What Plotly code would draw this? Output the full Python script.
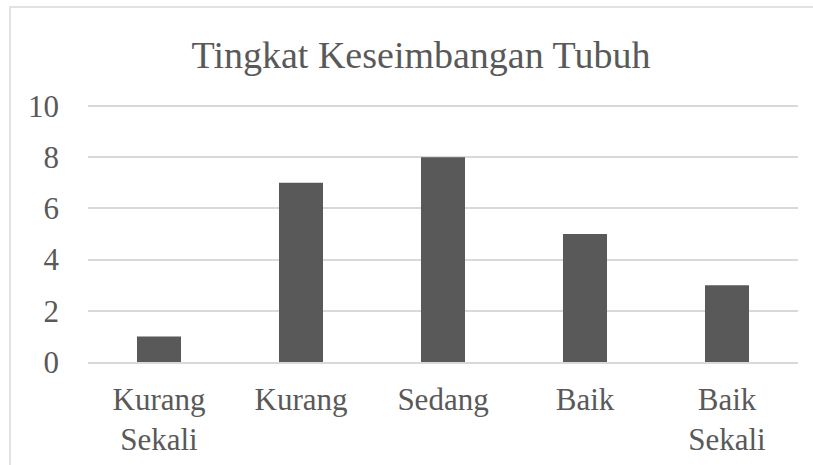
import plotly.graph_objects as go

categories = ["Kurang<br>Sekali", "Kurang", "Sedang", "Baik", "Baik<br>Sekali"]
values = [1, 7, 8, 5, 3]
y_ticks = [0, 2, 4, 6, 8, 10]

W, H = 813, 465
L, R, T, B = 88, 15, 102, 103
pw, ph = W - L - R, H - T - B
y_max = 10 + 4 / 25.6

def px_x(x):
    return (x - L) / pw

def px_y(y):
    return (H - B - y) / ph

font_family = "Liberation Serif"
gray = "#595959"
grid = "#d9d9d9"

fig = go.Figure(go.Bar(x=categories, y=values, marker=dict(color=gray, line=dict(width=0)),
                       hoverinfo="skip"))

fig.update_layout(
    width=W, height=H,
    margin=dict(l=L, r=R, t=T, b=B, autoexpand=False),
    paper_bgcolor="white", plot_bgcolor="white",
    bargap=0.69,
    showlegend=False,
    font=dict(family=font_family, color=gray, size=31),
    title=dict(text="Tingkat Keseimbangan Tubuh", x=421 / W, xanchor="center",
               y=1 - 55 / H, yanchor="middle", yref="container",
               font=dict(family=font_family, size=38, color=gray)),
    xaxis=dict(showgrid=False, showline=True, linecolor=grid, linewidth=1.5, automargin=False,
               ticks="", tickfont=dict(family=font_family, size=31, color=gray), ticklabelstandoff=9),
    yaxis=dict(range=[0, y_max], tickvals=y_ticks, showgrid=True, gridcolor=grid, gridwidth=1.5,
               zeroline=False, showline=False, ticks="", automargin=False,
               tickfont=dict(family=font_family, size=31, color=gray), ticklabelstandoff=28),
    shapes=[dict(type="rect", xref="paper", yref="paper",
                 x0=px_x(10), x1=px_x(830), y0=px_y(7), y1=px_y(480),
                 line=dict(color=grid, width=1.5), fillcolor="rgba(0,0,0,0)", layer="below")],
)

fig.write_html("out.html", config={"displayModeBar": False},
               post_script="document.body.style.margin='0';")
